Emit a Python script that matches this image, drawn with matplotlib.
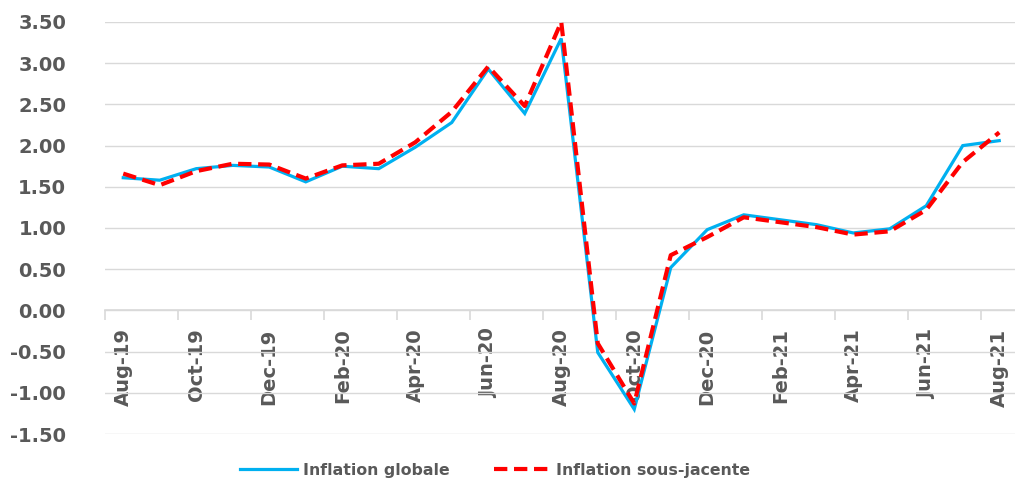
import numpy as np
import matplotlib.pyplot as plt
from matplotlib.ticker import MultipleLocator, FixedLocator, FormatStrFormatter

months = ["Aug-19", "Sep-19", "Oct-19", "Nov-19", "Dec-19", "Jan-20", "Feb-20",
          "Mar-20", "Apr-20", "May-20", "Jun-20", "Jul-20", "Aug-20", "Sep-20",
          "Oct-20", "Nov-20", "Dec-20", "Jan-21", "Feb-21", "Mar-21", "Apr-21",
          "May-21", "Jun-21", "Jul-21", "Aug-21"]

globale = [1.61, 1.58, 1.72, 1.76, 1.74, 1.56, 1.75, 1.72, 1.98, 2.28, 2.93,
           2.39, 3.30, -0.51, -1.20, 0.52, 0.98, 1.16, 1.10, 1.04, 0.94, 0.99,
           1.27, 2.00, 2.06]

sous_jacente = [1.66, 1.52, 1.69, 1.78, 1.77, 1.60, 1.76, 1.78, 2.04, 2.41,
                2.96, 2.48, 3.50, -0.40, -1.13, 0.67, 0.89, 1.13, 1.07, 1.01,
                0.92, 0.96, 1.22, 1.80, 2.16]

grey = "#595959"
x = np.arange(len(months))

fig = plt.figure(figsize=(10.15, 4.79), dpi=100)
ax = fig.add_axes([105 / 1015, 45 / 479, 912.5 / 1015, 412 / 479])

ax.plot(x, globale, color="#00B0F0", lw=2.3, label="Inflation globale",
        solid_joinstyle="miter", zorder=3)
ax.plot(x, sous_jacente, color="#FF0000", lw=3, ls=(0, (3.2, 1.6)),
        label="Inflation sous-jacente", zorder=4)

ax.set_xlim(-0.5, len(months) - 0.5)
ax.set_ylim(-1.5, 3.5)
ax.yaxis.set_major_locator(MultipleLocator(0.5))
ax.yaxis.set_major_formatter(FormatStrFormatter("%.2f"))
ax.grid(axis="y", color="#d9d9d9", lw=1)
ax.set_axisbelow(True)

for s in ["top", "right", "left"]:
    ax.spines[s].set_visible(False)
ax.spines["bottom"].set_position(("data", 0))
ax.spines["bottom"].set_color("#d9d9d9")
ax.spines["bottom"].set_linewidth(1.2)

ax.xaxis.set_major_locator(FixedLocator(x[::2]))
ax.set_xticklabels(months[::2], rotation=90, color=grey, fontsize=14,
                   fontweight="bold",
                   family=["Liberation Sans Narrow", "DejaVu Sans"])
ax.xaxis.set_minor_locator(FixedLocator(np.arange(-0.5, len(months), 2)))
ax.tick_params(axis="x", which="major", length=0, pad=13)
ax.tick_params(axis="x", which="minor", length=7, color="#d9d9d9", width=1.2)
ax.tick_params(axis="y", length=0, pad=28, labelcolor=grey)
for lab in ax.get_yticklabels():
    lab.set_fontsize(14)
    lab.set_fontweight("bold")

leg = fig.legend(loc="center", bbox_to_anchor=(0.488, 0.018), ncol=2, frameon=False,
                 handlelength=3.6, handletextpad=0.4, columnspacing=2.8,
                 prop={"weight": "bold", "size": 11.3})
for t in leg.get_texts():
    t.set_color(grey)

fig.savefig("out.png", dpi=100)
